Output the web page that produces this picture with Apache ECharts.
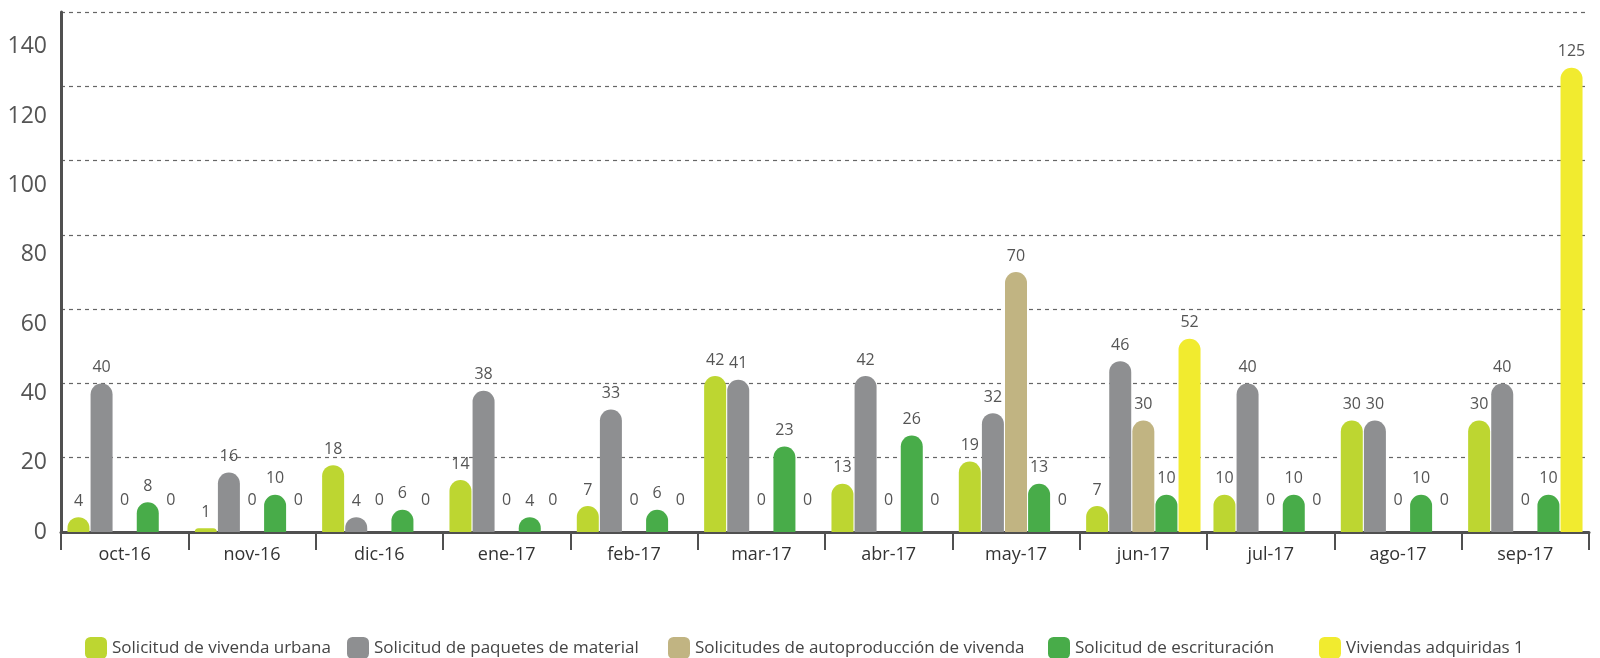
<!DOCTYPE html>
<html>
<head>
<meta charset="utf-8">
<script src="https://cdn.jsdelivr.net/npm/echarts@6/dist/echarts.min.js"></script>
<style>
html,body{margin:0;padding:0;background:#fff;}
#c{width:1600px;height:658px;}
</style>
</head>
<body>
<div id="c"></div>
<script>
const categories = ['oct-16','nov-16','dic-16','ene-17','feb-17','mar-17','abr-17','may-17','jun-17','jul-17','ago-17','sep-17'];
const seriesNames = ['Solicitud de vivenda urbana','Solicitud de paquetes de material','Solicitudes de autoproducción de vivenda','Solicitud de escrituración','Viviendas adquiridas 1'];
const viviendaUrbana = [4,1,18,14,7,42,13,19,7,10,30,30];
const paquetesMaterial = [40,16,4,38,33,41,42,32,46,40,30,40];
const autoproduccion = [0,0,0,0,0,0,0,70,30,0,0,0];
const escrituracion = [8,10,6,4,6,23,26,13,10,10,10,10];
const viviendasAdquiridas = [0,0,0,0,0,0,0,0,52,0,0,125];
const yTicks = [0,20,40,60,80,100,120,140];

const colors = ['#bdd631','#8e8f91','#c1b482','#48ac49','#f1eb2f'];
const values = [viviendaUrbana, paquetesMaterial, autoproduccion, escrituracion, viviendasAdquiridas];
const legendLeft = [80, 342, 663, 1043, 1314];
const FONT = '"Open Sans", sans-serif';

const chart = echarts.init(document.getElementById('c'));
chart.setOption({
  animation: false,
  textStyle: {fontFamily: FONT},
  grid: {left: 61, right: 11, top: 12, bottom: 126, containLabel: false},
  legend: seriesNames.map((n, i) => ({
    data: [n], left: legendLeft[i], top: 632,
    itemWidth: 22, itemHeight: 22, icon: 'roundRect', itemGap: 6,
    textStyle: {fontFamily: FONT, fontSize: 17, color: '#444'}
  })),
  xAxis: {
    type: 'category', data: categories,
    axisLine: {lineStyle: {color: '#505050', width: 3}},
    axisTick: {show: true, length: 18, lineStyle: {color: '#505050', width: 2}},
    axisLabel: {fontFamily: FONT, fontSize: 18, color: '#333', margin: 14}
  },
  yAxis: [{
    type: 'value', min: 0, max: 140, interval: 20,
    axisLine: {show: true, lineStyle: {color: '#505050', width: 3}},
    axisTick: {show: false},
    axisLabel: {show: false},
    splitLine: {show: true, lineStyle: {color: '#666', type: [4,4], width: 1.2}}
  }, {
    type: 'value', min: 0, max: 150, interval: 20, position: 'left',
    axisLine: {show: false}, axisTick: {show: false}, splitLine: {show: false},
    axisLabel: {fontFamily: FONT, fontSize: 23, color: '#555', margin: 14, showMaxLabel: false,
      formatter: v => yTicks.includes(v) ? String(v) : ''}
  }],
  series: seriesNames.map((n, i) => ({
    name: n, type: 'bar', yAxisIndex: 0,
    barWidth: 22, barGap: '5%',
    itemStyle: {color: colors[i], borderRadius: [11,11,0,0]},
    label: {show: true, position: 'top', distance: 8, fontFamily: FONT, fontSize: 16, color: '#555'},
    data: values[i].map(v => v === 0 ? {value: v, label: {offset: [0, -16]}} : v)
  }))
});
</script>
</body>
</html>
